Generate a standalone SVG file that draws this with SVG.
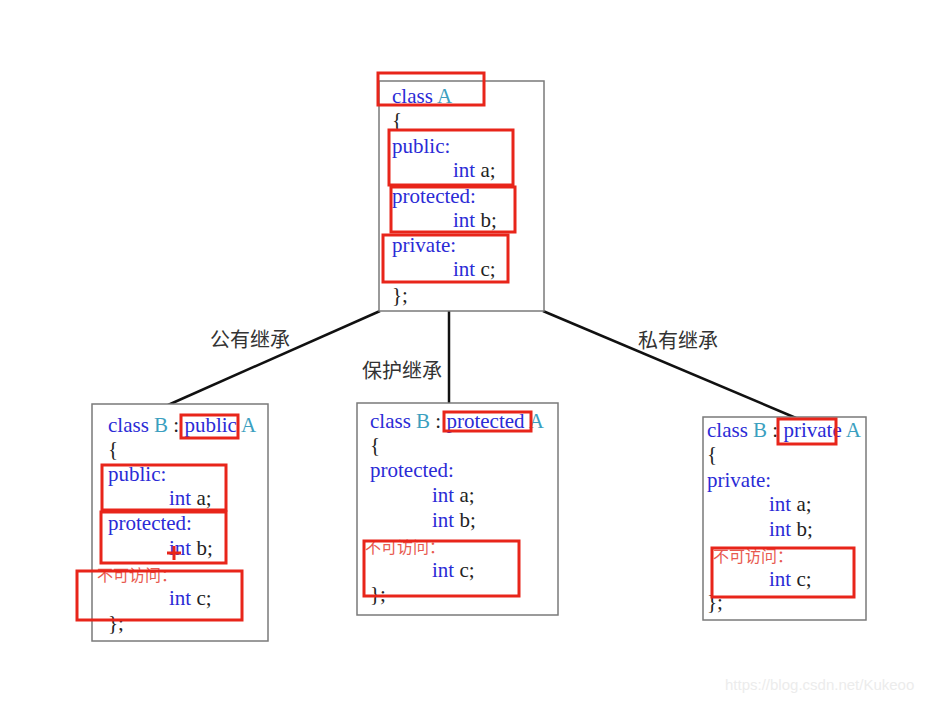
<svg xmlns="http://www.w3.org/2000/svg" width="933" height="701" viewBox="0 0 933 701">
<style>
.box{fill:#fff;stroke:#7a7a7a;stroke-width:1.5}
.hl{fill:none;stroke:#e8251a;stroke-width:3}
.code{font-family:"Liberation Serif","Times New Roman",serif;font-size:21px;fill:#2b2bd6}
.t{fill:#3c9fc0}
.k{fill:#222}
.na{font-family:"Noto Sans CJK SC",sans-serif;font-size:16px;fill:#e85a50}
.lbl{font-family:"Noto Sans CJK SC",sans-serif;font-size:20px;fill:#333}
.conn{stroke:#111;stroke-width:2.5;fill:none}
</style>
<rect width="933" height="701" fill="#fff"/>
<g id="connectors">
<line class="conn" x1="380" y1="311" x2="168" y2="405"/>
<line class="conn" x1="449" y1="311" x2="449" y2="403"/>
<line class="conn" x1="543" y1="311" x2="796" y2="418"/>
<text class="lbl" x="210" y="347">公有继承</text>
<text class="lbl" x="362" y="378">保护继承</text>
<text class="lbl" x="638" y="348">私有继承</text>
</g>
<g id="classA">
<rect class="box" x="379" y="81" width="165" height="230"/>
<text class="code" x="392" y="103">class <tspan class="t">A</tspan></text>
<text class="code k" x="392" y="127">{</text>
<text class="code" x="392" y="153">public:</text>
<text class="code" x="453" y="177">int <tspan class="k">a;</tspan></text>
<text class="code" x="392" y="203">protected:</text>
<text class="code" x="453" y="227">int <tspan class="k">b;</tspan></text>
<text class="code" x="392" y="252">private:</text>
<text class="code" x="453" y="276">int <tspan class="k">c;</tspan></text>
<text class="code k" x="392" y="302">};</text>
<rect class="hl" x="378" y="73" width="106" height="32"/>
<rect class="hl" x="389" y="130" width="124" height="55"/>
<rect class="hl" x="391" y="187" width="124" height="45"/>
<rect class="hl" x="383" y="235" width="125" height="47"/>
</g>
<g id="publicB">
<rect class="box" x="92" y="404" width="176" height="237"/>
<text class="code" x="108" y="432">class <tspan class="t">B</tspan> <tspan class="k">:</tspan> public <tspan class="t">A</tspan></text>
<text class="code k" x="108" y="456">{</text>
<text class="code" x="108" y="481">public:</text>
<text class="code" x="169" y="505">int <tspan class="k">a;</tspan></text>
<text class="code" x="108" y="530">protected:</text>
<text class="code" x="169" y="555">int <tspan class="k">b;</tspan></text>
<text class="na" x="97" y="581">不可访问：</text>
<text class="code" x="169" y="605">int <tspan class="k">c;</tspan></text>
<text class="code k" x="108" y="630">};</text>
<rect class="hl" x="181" y="415" width="57" height="23"/>
<rect class="hl" x="102" y="465" width="124" height="45"/>
<rect class="hl" x="101" y="512" width="125" height="51"/>
<rect class="hl" x="77" y="571" width="165" height="49"/>
<path d="M167 553h14M174 546v14" stroke="#e8251a" stroke-width="3"/>
</g>
<g id="protectedB">
<rect class="box" x="357" y="403" width="201" height="212"/>
<text class="code" x="370" y="428">class <tspan class="t">B</tspan> <tspan class="k">:</tspan> protected <tspan class="t">A</tspan></text>
<text class="code k" x="370" y="452">{</text>
<text class="code" x="370" y="477">protected:</text>
<text class="code" x="432" y="502">int <tspan class="k">a;</tspan></text>
<text class="code" x="432" y="527">int <tspan class="k">b;</tspan></text>
<text class="na" x="365" y="553">不可访问：</text>
<text class="code" x="432" y="577">int <tspan class="k">c;</tspan></text>
<text class="code k" x="370" y="601">};</text>
<rect class="hl" x="444" y="412" width="87" height="19"/>
<rect class="hl" x="364" y="541" width="155" height="55"/>
</g>
<g id="privateB">
<rect class="box" x="703" y="417" width="163" height="203"/>
<text class="code" x="707" y="437">class <tspan class="t">B</tspan> <tspan class="k">:</tspan> private <tspan class="t">A</tspan></text>
<text class="code k" x="707" y="461">{</text>
<text class="code" x="707" y="487">private:</text>
<text class="code" x="769" y="511">int <tspan class="k">a;</tspan></text>
<text class="code" x="769" y="536">int <tspan class="k">b;</tspan></text>
<text class="na" x="713" y="562">不可访问：</text>
<text class="code" x="769" y="586">int <tspan class="k">c;</tspan></text>
<text class="code k" x="707" y="609">};</text>
<rect class="hl" x="778" y="419" width="58" height="25"/>
<rect class="hl" x="712" y="548" width="142" height="49"/>
</g>
<text x="725" y="690" font-family="Liberation Sans,Arial,sans-serif" font-size="15" fill="#ececec">https://blog.csdn.net/Kukeoo</text>
</svg>
